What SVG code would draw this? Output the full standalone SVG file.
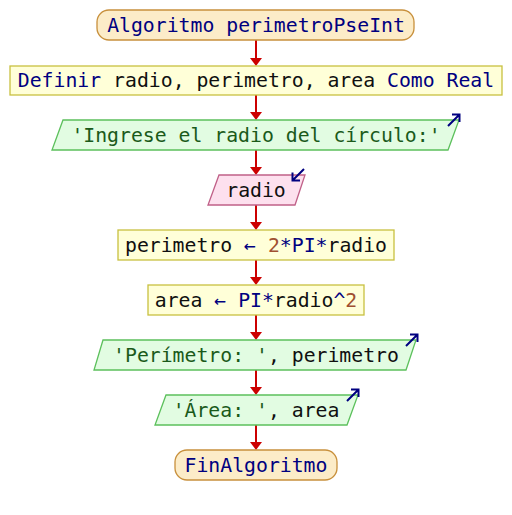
<svg xmlns="http://www.w3.org/2000/svg" width="512" height="515" viewBox="0 0 512 515">
<defs>
<style>
text{font-family:"DejaVu Sans Mono","Liberation Mono",monospace;font-size:19.8px;text-anchor:middle}
.term{fill:#fcecc8;stroke:#c8903c;stroke-width:1.3}
.proc{fill:#ffffd8;stroke:#c8c040;stroke-width:1.3}
.out{fill:#e2fce2;stroke:#5cc05c;stroke-width:1.3}
.in{fill:#fde0ee;stroke:#c06088;stroke-width:1.3}
.kw{fill:#000080}
.id{fill:#101010}
.st{fill:#1a5a1a}
.nm{fill:#a05030}
.op{fill:#000080}
.conn line{stroke:#cc0000;stroke-width:2}
.icon{stroke:#000080;stroke-width:2;fill:none}
</style>
<marker id="ah" viewBox="0 0 10 10" refX="10" refY="5" markerWidth="6" markerHeight="6" markerUnits="userSpaceOnUse" orient="auto">
<path d="M0,0 L10,5 L0,10 z" fill="#cc0000"/>
</marker>
<marker id="ih" viewBox="0 0 10 10" refX="9" refY="5" markerWidth="6" markerHeight="6" orient="auto" markerUnits="userSpaceOnUse">
<path d="M0,0 L10,5 L0,10" fill="none" stroke="#000080" stroke-width="2.5"/>
</marker>
</defs>
<rect width="512" height="515" fill="#ffffff"/>
<g id="connectors" class="conn">
<line x1="256" y1="40" x2="256" y2="58"/><path d="M250,58 L262,58 L256,66 z" fill="#cc0000"/>
<line x1="256" y1="95" x2="256" y2="112"/><path d="M250,112 L262,112 L256,120 z" fill="#cc0000"/>
<line x1="256" y1="150" x2="256" y2="167"/><path d="M250,167 L262,167 L256,175 z" fill="#cc0000"/>
<line x1="256" y1="205" x2="256" y2="222"/><path d="M250,222 L262,222 L256,230 z" fill="#cc0000"/>
<line x1="256" y1="260" x2="256" y2="277"/><path d="M250,277 L262,277 L256,285 z" fill="#cc0000"/>
<line x1="256" y1="315" x2="256" y2="332"/><path d="M250,332 L262,332 L256,340 z" fill="#cc0000"/>
<line x1="256" y1="370" x2="256" y2="387"/><path d="M250,387 L262,387 L256,395 z" fill="#cc0000"/>
<line x1="256" y1="425" x2="256" y2="442"/><path d="M250,442 L262,442 L256,450 z" fill="#cc0000"/>
</g>
<g id="start">
<rect class="term" x="97" y="10" width="317" height="30" rx="12"/>
<text x="256" y="32"><tspan class="kw">Algoritmo perimetroPseInt</tspan></text>
</g>
<g id="definir">
<rect class="proc" x="10" y="66" width="492" height="29"/>
<text x="256" y="87"><tspan class="kw">Definir</tspan><tspan class="id"> radio, perimetro, area </tspan><tspan class="kw">Como Real</tspan></text>
</g>
<g id="escribir1">
<path class="out" d="M63,120 L459,120 L448,150 L52,150 z"/>
<text x="256" y="142" class="st">'Ingrese el radio del círculo:'</text>
<path class="icon" d="M448,126 L459,115 M452,114.5 L459.5,114.5 L459.5,122"/>
</g>
<g id="leer">
<path class="in" d="M219,175 L305,175 L295,205 L208,205 z"/>
<text x="256" y="197" class="id">radio</text>
<path class="icon" d="M304,169 L293,180 M292.5,172.5 L292.5,180.5 L300,180.5"/>
</g>
<g id="asig1">
<rect class="proc" x="118" y="230" width="276" height="30"/>
<text x="256" y="252"><tspan class="id">perimetro </tspan><tspan class="op">←</tspan><tspan class="id"> </tspan><tspan class="nm">2</tspan><tspan class="op">*PI*</tspan><tspan class="id">radio</tspan></text>
</g>
<g id="asig2">
<rect class="proc" x="148" y="285" width="216" height="30"/>
<text x="256" y="307"><tspan class="id">area </tspan><tspan class="op">←</tspan><tspan class="id"> </tspan><tspan class="op">PI*</tspan><tspan class="id">radio</tspan><tspan class="op">^</tspan><tspan class="nm">2</tspan></text>
</g>
<g id="escribir2">
<path class="out" d="M103,340 L416,340 L406,370 L94,370 z"/>
<text x="256" y="362"><tspan class="st">'Perímetro: '</tspan><tspan class="id">, perimetro</tspan></text>
<path class="icon" d="M406,346 L417,335 M410,334.5 L417.5,334.5 L417.5,342"/>
</g>
<g id="escribir3">
<path class="out" d="M166,395 L358,395 L347,425 L155,425 z"/>
<text x="256" y="417"><tspan class="st">'Área: '</tspan><tspan class="id">, area</tspan></text>
<path class="icon" d="M347,401 L358,390 M351,389.5 L358.5,389.5 L358.5,397"/>
</g>
<g id="fin">
<rect class="term" x="175" y="450" width="162" height="30" rx="12"/>
<text x="256" y="472" class="kw">FinAlgoritmo</text>
</g>
</svg>
